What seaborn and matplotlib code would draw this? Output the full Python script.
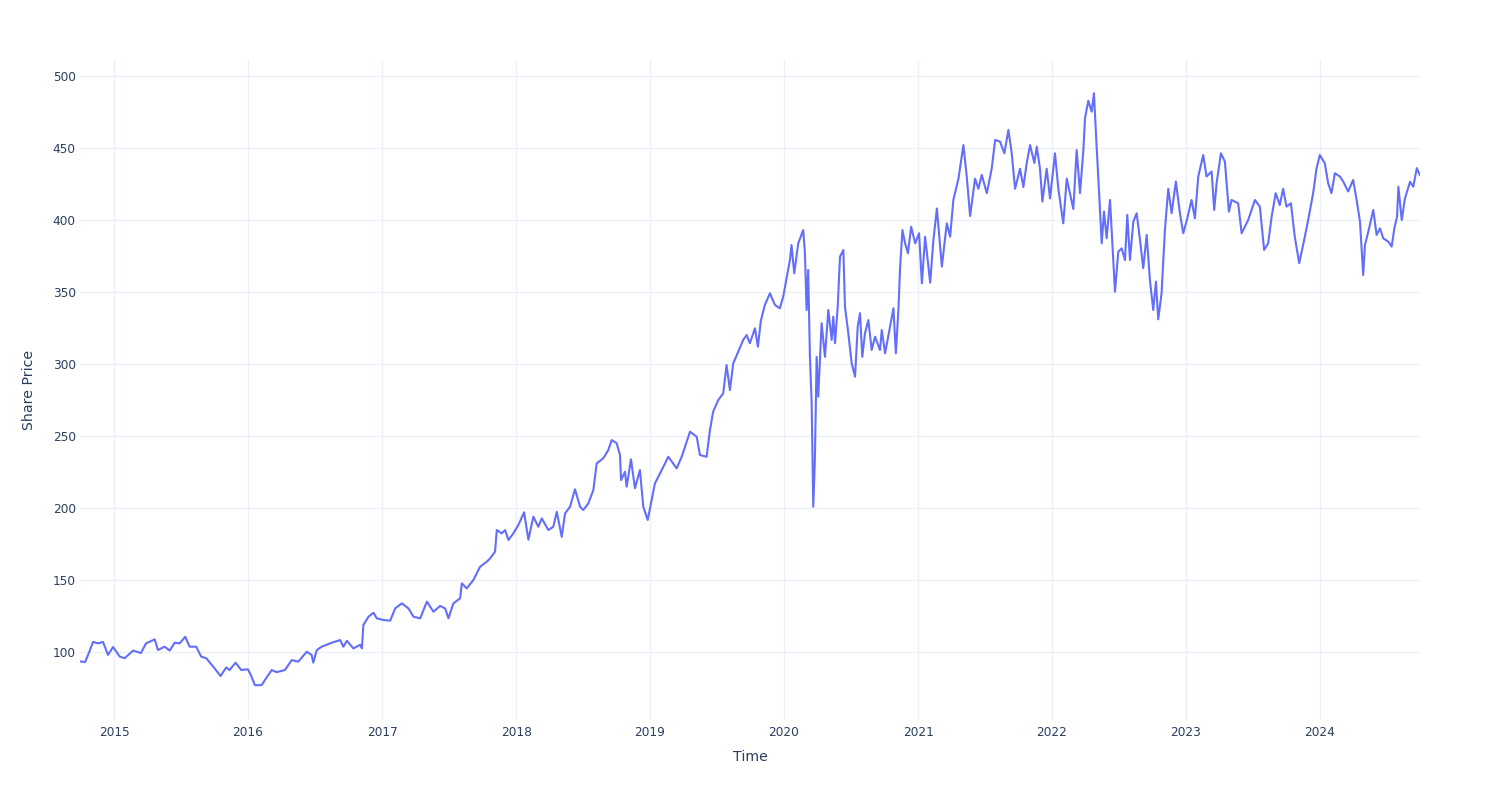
import numpy as np
import pandas as pd
import matplotlib
matplotlib.use("Agg")
import matplotlib.pyplot as plt
import matplotlib.dates as mdates
import seaborn as sns

# ---- data ----
# time in decimal years
years = [
    2014.746, 2014.784, 2014.819, 2014.843, 2014.881, 2014.918, 2014.955, 2014.993,
    2015.043, 2015.080, 2015.142, 2015.201, 2015.239, 2015.304, 2015.328, 2015.378,
    2015.416, 2015.453, 2015.490, 2015.532, 2015.565, 2015.614, 2015.651, 2015.689,
    2015.751, 2015.796, 2015.838, 2015.863, 2015.908, 2015.950, 2016.000, 2016.022,
    2016.052, 2016.102, 2016.127, 2016.177, 2016.214, 2016.276, 2016.326, 2016.375,
    2016.438, 2016.475, 2016.487, 2016.513, 2016.550, 2016.625, 2016.687, 2016.711,
    2016.737, 2016.786, 2016.836, 2016.849, 2016.860, 2016.898, 2016.935, 2016.960,
    2017.010, 2017.060, 2017.097, 2017.147, 2017.196, 2017.234, 2017.284, 2017.334,
    2017.383, 2017.433, 2017.470, 2017.495, 2017.532, 2017.582, 2017.595, 2017.632,
    2017.681, 2017.731, 2017.781, 2017.806, 2017.843, 2017.856, 2017.893, 2017.918,
    2017.943, 2017.980, 2018.017, 2018.060, 2018.092, 2018.129, 2018.166, 2018.192,
    2018.241, 2018.278, 2018.304, 2018.341, 2018.366, 2018.403, 2018.440, 2018.478,
    2018.502, 2018.540, 2018.577, 2018.602, 2018.651, 2018.689, 2018.714, 2018.751,
    2018.776, 2018.784, 2018.813, 2018.826, 2018.858, 2018.888, 2018.925, 2018.950,
    2018.983, 2019.013, 2019.037, 2019.075, 2019.137, 2019.199, 2019.237, 2019.299,
    2019.349, 2019.373, 2019.423, 2019.448, 2019.472, 2019.510, 2019.547, 2019.572,
    2019.597, 2019.622, 2019.659, 2019.696, 2019.722, 2019.746, 2019.784, 2019.806,
    2019.828, 2019.858, 2019.896, 2019.933, 2019.970, 2019.995, 2020.020, 2020.045,
    2020.057, 2020.077, 2020.107, 2020.144, 2020.157, 2020.169, 2020.181, 2020.194,
    2020.207, 2020.219, 2020.231, 2020.244, 2020.256, 2020.281, 2020.306, 2020.331,
    2020.356, 2020.368, 2020.381, 2020.401, 2020.418, 2020.443, 2020.455, 2020.480,
    2020.505, 2020.530, 2020.550, 2020.567, 2020.584, 2020.604, 2020.629, 2020.654,
    2020.679, 2020.716, 2020.729, 2020.754, 2020.791, 2020.816, 2020.834, 2020.853,
    2020.866, 2020.883, 2020.903, 2020.924, 2020.948, 2020.978, 2021.007, 2021.028,
    2021.052, 2021.090, 2021.114, 2021.140, 2021.177, 2021.214, 2021.239, 2021.263,
    2021.301, 2021.338, 2021.363, 2021.388, 2021.425, 2021.450, 2021.475, 2021.513,
    2021.550, 2021.575, 2021.612, 2021.644, 2021.674, 2021.699, 2021.724, 2021.761,
    2021.786, 2021.811, 2021.836, 2021.868, 2021.886, 2021.910, 2021.928, 2021.960,
    2021.985, 2022.022, 2022.047, 2022.084, 2022.110, 2022.134, 2022.159, 2022.184,
    2022.209, 2022.234, 2022.246, 2022.271, 2022.296, 2022.313, 2022.333, 2022.345,
    2022.371, 2022.388, 2022.408, 2022.433, 2022.457, 2022.470, 2022.495, 2022.520,
    2022.545, 2022.562, 2022.582, 2022.607, 2022.632, 2022.657, 2022.681, 2022.707,
    2022.731, 2022.756, 2022.776, 2022.793, 2022.818, 2022.843, 2022.868, 2022.893,
    2022.925, 2022.955, 2022.980, 2023.007, 2023.042, 2023.067, 2023.092, 2023.129,
    2023.154, 2023.192, 2023.211, 2023.229, 2023.261, 2023.291, 2023.321, 2023.341,
    2023.390, 2023.416, 2023.465, 2023.515, 2023.552, 2023.584, 2023.614, 2023.640,
    2023.670, 2023.701, 2023.726, 2023.751, 2023.784, 2023.813, 2023.846, 2023.875,
    2023.913, 2023.950, 2023.975, 2024.000, 2024.037, 2024.062, 2024.087, 2024.112,
    2024.149, 2024.174, 2024.211, 2024.248, 2024.274, 2024.299, 2024.323, 2024.336,
    2024.361, 2024.398, 2024.423, 2024.448, 2024.472, 2024.510, 2024.535, 2024.555,
    2024.575, 2024.585, 2024.610, 2024.634, 2024.672, 2024.696, 2024.722, 2024.746,
]

share_price = [
    93.5, 93.0, 101.0, 107.0, 106.0, 107.0, 98.0, 103.5,
    96.8, 95.7, 101.0, 99.3, 106.0, 108.8, 101.4, 103.7,
    101.0, 106.5, 106.0, 110.6, 103.7, 103.7, 96.8, 95.7,
    88.7, 83.3, 89.3, 87.5, 92.6, 87.5, 88.0, 84.0,
    77.0, 77.0, 80.6, 87.5, 86.0, 87.5, 94.4, 93.3,
    100.2, 97.9, 92.6, 101.4, 103.7, 106.5, 108.3, 103.7,
    107.8, 102.5, 105.0, 102.5, 118.8, 124.5, 127.3, 123.4,
    122.2, 121.8, 130.3, 133.8, 130.3, 124.5, 123.4, 135.0,
    128.0, 132.0, 130.3, 123.4, 133.8, 137.3, 147.7, 144.2,
    150.0, 159.2, 162.7, 165.0, 169.7, 184.7, 182.4, 184.7,
    177.8, 182.4, 188.2, 197.0, 178.0, 194.0, 187.0, 192.8,
    184.7, 187.0, 197.4, 180.0, 196.3, 200.9, 213.0, 200.9,
    198.6, 203.3, 212.5, 231.0, 234.5, 240.3, 247.2, 245.0,
    236.8, 219.4, 225.2, 214.8, 233.8, 213.7, 226.4, 200.9,
    191.7, 205.6, 217.1, 224.0, 235.6, 227.5, 235.6, 253.0,
    249.5, 236.8, 235.6, 254.2, 266.9, 275.0, 279.6, 299.3,
    281.9, 300.5, 308.5, 316.7, 320.1, 314.4, 324.8, 312.0,
    330.0, 341.0, 349.1, 341.0, 338.7, 346.7, 359.5, 372.2,
    382.6, 363.0, 383.8, 393.0, 376.9, 337.5, 365.3, 305.0,
    272.7, 200.9, 233.3, 305.0, 277.3, 328.3, 305.0, 337.5,
    316.7, 332.9, 314.4, 339.8, 374.5, 379.2, 339.8, 321.3,
    300.5, 291.2, 326.0, 335.3, 305.0, 321.3, 330.5, 309.7,
    319.0, 309.7, 323.6, 307.4, 326.0, 338.7, 307.4, 337.5,
    367.6, 393.0, 383.8, 376.9, 395.3, 383.8, 390.8, 356.0,
    388.4, 356.5, 386.1, 408.0, 367.6, 397.7, 388.4, 413.9,
    428.7, 452.0, 430.2, 402.8, 428.7, 421.7, 431.3, 418.6,
    436.0, 455.6, 454.4, 446.3, 462.5, 446.3, 421.7, 435.6,
    422.9, 439.6, 452.0, 439.6, 450.9, 435.6, 412.8, 435.6,
    415.0, 446.3, 421.7, 397.7, 428.7, 418.2, 407.6, 448.6,
    418.6, 448.6, 470.6, 482.8, 475.2, 488.0, 450.9, 430.2,
    383.8, 405.8, 387.3, 413.9, 372.2, 350.2, 378.0, 380.3,
    372.2, 403.5, 372.2, 398.8, 404.7, 386.1, 366.5, 389.6,
    358.3, 337.5, 357.2, 331.0, 349.1, 393.0, 421.7, 404.7,
    426.7, 404.7, 390.8, 400.0, 413.9, 401.2, 430.2, 445.1,
    430.2, 433.7, 407.0, 425.5, 446.3, 440.5, 405.8, 413.9,
    411.6, 390.8, 400.0, 413.9, 409.3, 379.2, 383.8, 402.3,
    418.6, 410.4, 421.7, 409.3, 411.6, 388.4, 370.0, 382.6,
    400.0, 418.6, 435.6, 445.1, 439.4, 425.5, 418.6, 432.5,
    430.2, 426.7, 419.8, 427.8, 413.9, 398.8, 361.8, 382.6,
    391.9, 407.0, 389.6, 394.2, 387.3, 385.0, 381.5, 394.2,
    402.3, 423.1, 400.0, 415.0, 426.6, 423.1, 436.0, 431.0,
]

year_ticks = [2015, 2016, 2017, 2018, 2019, 2020, 2021, 2022, 2023, 2024]
price_ticks = [100, 150, 200, 250, 300, 350, 400, 450, 500]


def to_date(t):
    y = int(np.floor(t))
    start = pd.Timestamp(year=y, month=1, day=1)
    ndays = (pd.Timestamp(year=y + 1, month=1, day=1) - start).days
    return start + pd.Timedelta(days=(t - y) * ndays)


df = pd.DataFrame({"Time": [to_date(t) for t in years], "Share Price": share_price})

sns.set_style("white")
plt.rcParams["font.family"] = ["DejaVu Sans"]

text_color = "#2a3f5f"
grid_color = "#EBF0F8"

fig = plt.figure(figsize=(15, 8), dpi=100)
ax = fig.add_axes([80 / 1500, 80 / 800, 1340 / 1500, 660 / 800])

sns.lineplot(data=df, x="Time", y="Share Price", ax=ax, color="#636EFA",
             linewidth=1.5, zorder=3)

ax.set_xlim(df["Time"].min(), df["Time"].max())
ax.set_ylim(52.8, 511.1)

ax.set_xticks([pd.Timestamp(year=y, month=1, day=1) for y in year_ticks])
ax.set_xticklabels([str(y) for y in year_ticks])
ax.set_yticks(price_ticks)
ax.set_yticklabels([str(v) for v in price_ticks])

ax.grid(True, color=grid_color, linewidth=1.0, zorder=0)
ax.set_axisbelow(True)
for s in ax.spines.values():
    s.set_visible(False)

ax.tick_params(axis="both", length=0, colors=text_color, labelsize=8.7)
ax.tick_params(axis="y", pad=3)
ax.tick_params(axis="x", pad=4)

ax.set_xlabel("Time", fontsize=10.2, color=text_color, labelpad=8)
ax.set_ylabel("Share Price", fontsize=10.2, color=text_color, labelpad=12)

fig.savefig("out.png", dpi=100, facecolor="white")
